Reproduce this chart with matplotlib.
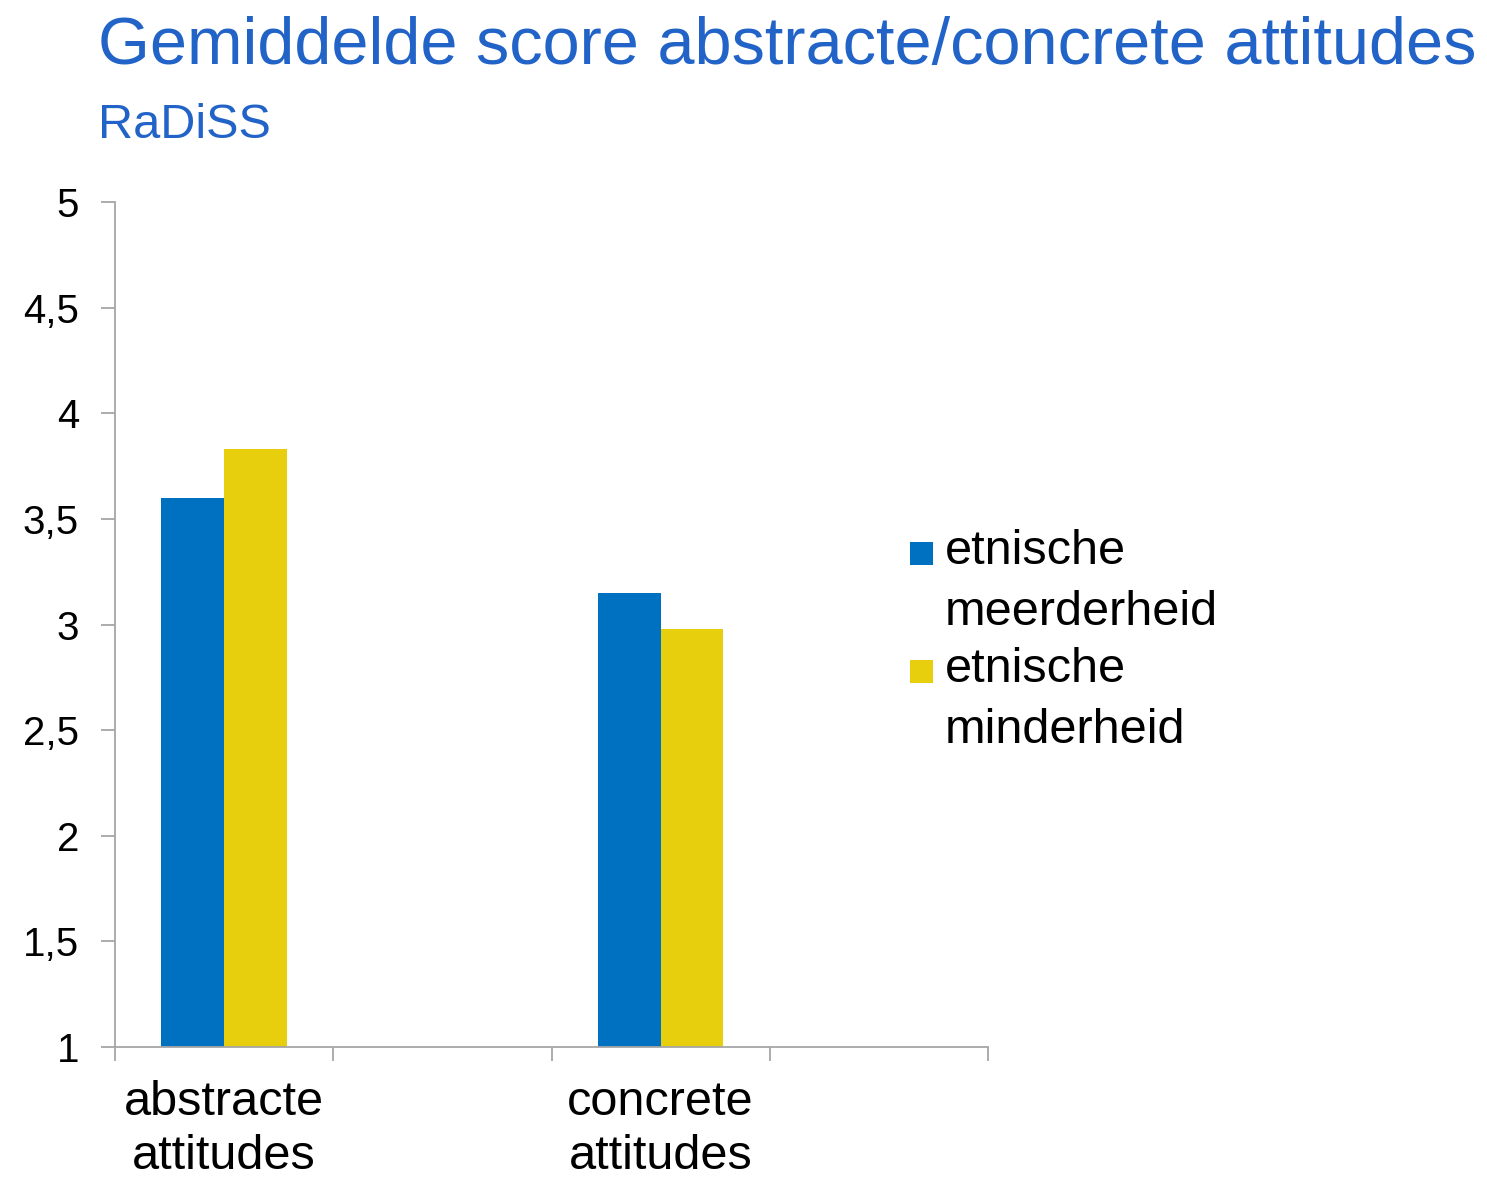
import numpy as np
import matplotlib.pyplot as plt
from matplotlib.ticker import FuncFormatter
from matplotlib.patches import Rectangle
from matplotlib.container import BarContainer
from matplotlib.legend_handler import HandlerPatch, update_from_first_child

plt.rcParams['font.family'] = ['Liberation Sans', 'DejaVu Sans']

# data
categories = ['abstracte\nattitudes', '', 'concrete\nattitudes', '']
meerderheid = [3.60, np.nan, 3.15, np.nan]
minderheid = [3.83, np.nan, 2.98, np.nan]
series_labels = ['etnische\nmeerderheid', 'etnische\nminderheid']
yticks = [1, 1.5, 2, 2.5, 3, 3.5, 4, 4.5, 5]

blue = '#0070C0'
yellow = '#E8CF0E'
title_col = '#2263C8'
grey = '#A6A6A6'

fig = plt.figure(figsize=(14.87, 11.81), dpi=100)
ax = fig.add_axes([115/1487, 134/1181, 873/1487, 845/1181])

x = np.arange(len(categories))
w = 0.287
ax.bar(x - w/2, meerderheid, w, color=blue, label=series_labels[0])
ax.bar(x + w/2, minderheid, w, color=yellow, label=series_labels[1])

ax.set_xlim(-0.5, len(categories) - 0.5)
ax.set_ylim(1, 5)
ax.set_yticks(yticks)
ax.yaxis.set_major_formatter(FuncFormatter(lambda v, p: ('%g' % v).replace('.', ',')))

ax.set_xticks(np.arange(-0.5, len(categories)), [''] * (len(categories) + 1))
ax.set_xticks(x, categories, minor=True)
for t in ax.get_xticklabels(minor=True):
    t.set_linespacing(1.26)
ax.tick_params(axis='x', which='minor', length=0, pad=24, labelsize=35)
ax.tick_params(axis='x', which='major', length=10, width=1.3, color=grey)
ax.tick_params(axis='y', length=10, width=1.3, color=grey, pad=16, labelsize=29)

for s in ['top', 'right']:
    ax.spines[s].set_visible(False)
for s in ['left', 'bottom']:
    ax.spines[s].set_color(grey)
    ax.spines[s].set_linewidth(1.3)


# square marker sitting on the first line of a two-line label
def square(legend, orig_handle, xdescent, ydescent, width, height, fontsize):
    s = 16.6
    return Rectangle((-xdescent, 25), s, s)


leg = ax.legend(loc='upper left', bbox_to_anchor=(910/1487, 1 - 529/1181),
                bbox_transform=fig.transFigure, frameon=False, fontsize=35,
                handlelength=0.474, handleheight=0.5, handletextpad=0.25,
                labelspacing=0.25, borderpad=0, borderaxespad=0,
                handler_map={BarContainer: HandlerPatch(patch_func=square,
                                                        update_func=update_from_first_child)})
for t in leg.get_texts():
    t.set_linespacing(1.46)

fig.text(98/1487, 1 - 64/1181, 'Gemiddelde score abstracte/concrete attitudes',
         color=title_col, fontsize=48, va='baseline', ha='left')
fig.text(98/1487, 1 - 138/1181, 'RaDiSS', color=title_col, fontsize=35,
         va='baseline', ha='left')

plt.savefig('out.png', dpi=100)
plt.close()
